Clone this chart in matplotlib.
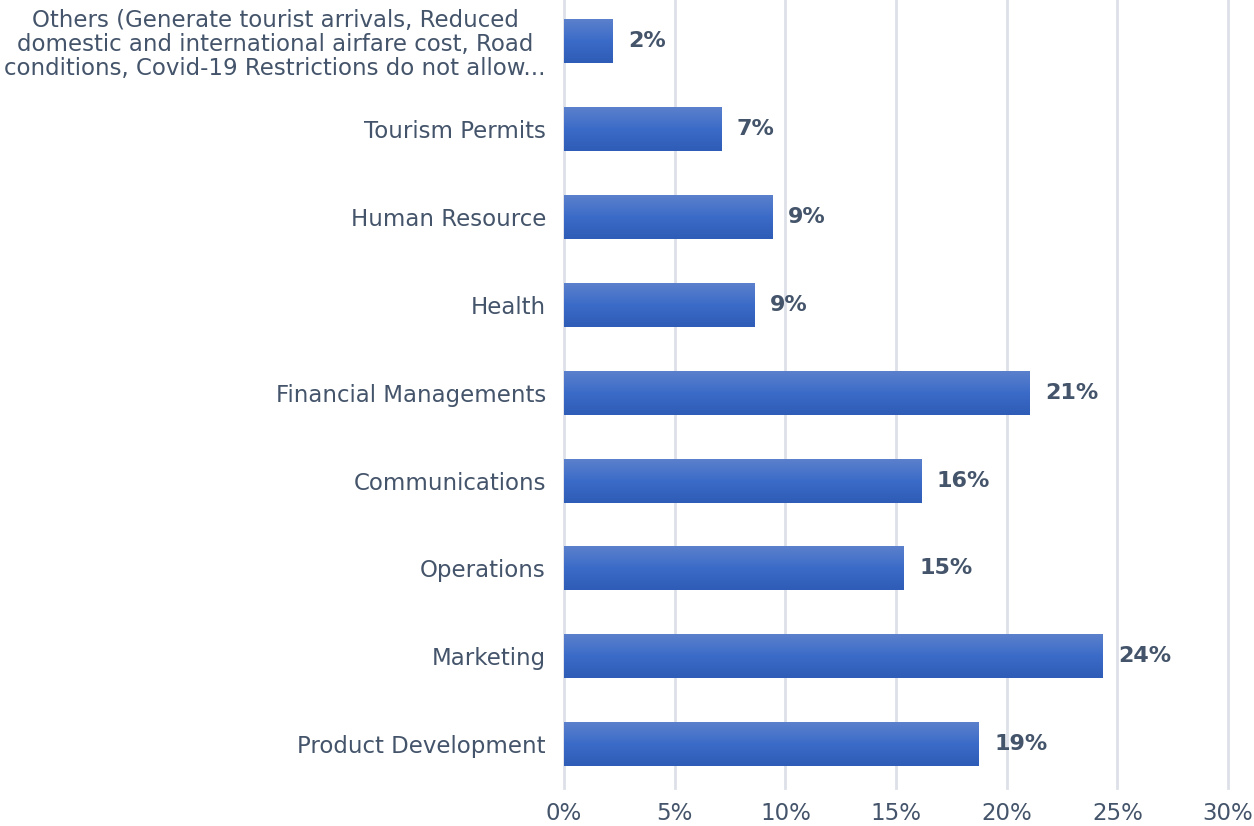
import numpy as np
import matplotlib
matplotlib.use('Agg')
import matplotlib.pyplot as plt
from matplotlib.colors import LinearSegmentedColormap

# data, bottom to top
categories = ['Product Development', 'Marketing', 'Operations', 'Communications',
              'Financial Managements', 'Health', 'Human Resource', 'Tourism Permits',
              'Others (Generate tourist arrivals, Reduced\ndomestic and international airfare cost, Road\nconditions, Covid-19 Restrictions do not allow...']
values = [18.75, 24.35, 15.35, 16.15, 21.05, 8.6, 9.4, 7.1, 2.2]
labels = ['19%', '24%', '15%', '16%', '21%', '9%', '9%', '7%', '2%']
ticks = [0, 5, 10, 15, 20, 25, 30]

text_col = '#44546A'
plt.rcParams['font.family'] = ['DejaVu Sans']

fig = plt.figure(figsize=(12.54, 8.26), dpi=100)
ax = fig.add_axes([0.4498, 0.046, 0.5295, 0.957])

y = np.arange(len(categories))
bars = ax.barh(y, values, height=0.5, color='none', edgecolor='none', zorder=3)

# vertical gradient inside each bar
grad = LinearSegmentedColormap.from_list('g', ['#2E5CB6', '#3B6BC8', '#5B80CC'])
g = np.linspace(0, 1, 64).reshape(-1, 1)
for b in bars:
    x0, y0 = b.get_x(), b.get_y()
    ax.imshow(g, cmap=grad, aspect='auto', origin='lower', zorder=3,
              extent=(x0, x0 + b.get_width(), y0, y0 + b.get_height()))

for yi, v, lab in zip(y, values, labels):
    ax.text(v + 0.7, yi, lab, va='center', ha='left', fontsize=16,
            fontweight='bold', color=text_col)

ax.set_xlim(0, 30)
ax.set_ylim(-0.5, len(categories) - 0.5)
ax.set_xticks(ticks)
ax.set_xticklabels([f'{t}%' for t in ticks], fontsize=16.5, color=text_col)
ax.set_yticks(y)
ax.set_yticklabels(categories, fontsize=16.5, color=text_col, linespacing=1.07)
for t in ax.get_yticklabels():
    t.set_multialignment('center')
ax.tick_params(axis='both', length=0)
ax.tick_params(axis='y', pad=13)
ax.tick_params(axis='x', pad=10)
ax.grid(axis='x', color='#DDE0E8', linewidth=2, zorder=0)
for gl in ax.get_xgridlines():
    gl.set_clip_on(False)
for s in ax.spines.values():
    s.set_visible(False)

fig.savefig('out.png', dpi=100)
